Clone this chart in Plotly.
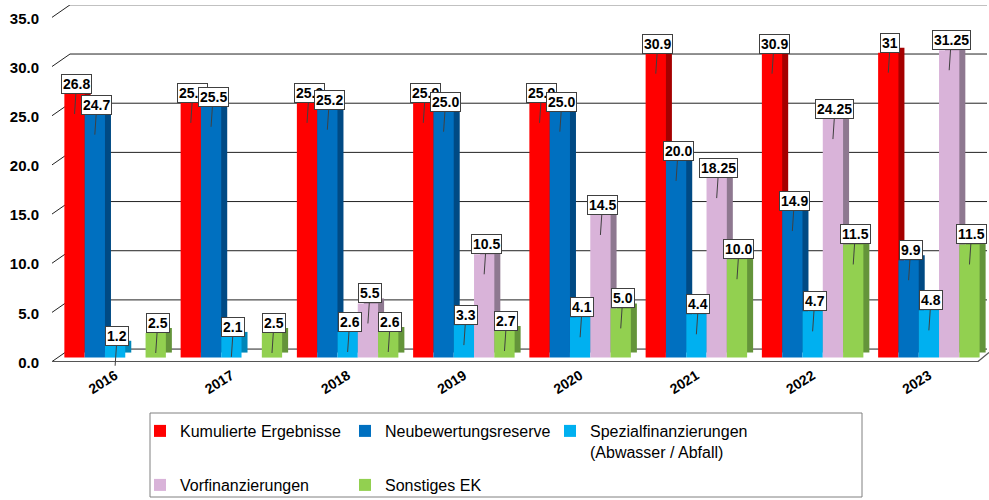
import plotly.graph_objects as go

# ---------------- data ----------------
years = ["2016", "2017", "2018", "2019", "2020", "2021", "2022", "2023"]

series_names = [
    "Kumulierte Ergebnisse",
    "Neubewertungsreserve",
    "Spezialfinanzierungen<br>(Abwasser / Abfall)",
    "Vorfinanzierungen",
    "Sonstiges EK",
]

kumuliert = [26.8, 25.9, 25.9, 25.9, 25.9, 30.9, 30.9, 31.0]
kumuliert_labels = ["26.8", "25.9", "25.9", "25.9", "25.9", "30.9", "30.9", "31"]

neubewertung = [24.7, 25.5, 25.2, 25.0, 25.0, 20.0, 14.9, 9.9]
neubewertung_labels = ["24.7", "25.5", "25.2", "25.0", "25.0", "20.0", "14.9", "9.9"]

spezial = [1.2, 2.1, 2.6, 3.3, 4.1, 4.4, 4.7, 4.8]
spezial_labels = ["1.2", "2.1", "2.6", "3.3", "4.1", "4.4", "4.7", "4.8"]

vorfinanz = [None, None, 5.5, 10.5, 14.5, 18.25, 24.25, 31.25]
vorfinanz_labels = [None, None, "5.5", "10.5", "14.5", "18.25", "24.25", "31.25"]

sonstiges = [2.5, 2.5, 2.6, 2.7, 5.0, 10.0, 11.5, 11.5]
sonstiges_labels = ["2.5", "2.5", "2.6", "2.7", "5.0", "10.0", "11.5", "11.5"]

y_ticks = [0, 5, 10, 15, 20, 25, 30, 35]

# ---------------- style ----------------
face_colors = ["#FF0000", "#0070C0", "#00B0F0", "#D9B3D9", "#92D050"]
side_colors = ["#A50000", "#004A84", "#0086B8", "#8E7890", "#64943A"]
legend_of = ["legend", "legend", "legend", "legend2", "legend2"]

values = [kumuliert, neubewertung, spezial, vorfinanz, sonstiges]
labels = [kumuliert_labels, neubewertung_labels, spezial_labels, vorfinanz_labels, sonstiges_labels]

W, H = 989, 500
ML, MR, MT, MB = 50, 0, 5, 138
PLOT_W = W - ML - MR
PLOT_H = H - MT - MB
PX_X = 116.25
X_RANGE = [-0.5 - 7 / PX_X, 7.5 + 2 / PX_X]
Y_RANGE = [-0.45, 35.85]
PX_Y = PLOT_H / (Y_RANGE[1] - Y_RANGE[0])


def paper_x(px):
    return (px - ML) / PLOT_W


def paper_y(py):
    return (H - MB - py) / PLOT_H


BAR_W = 20.3 / PX_X
GROUP_OFF = -2.5 * BAR_W
DEPTH_X = 6 / PX_X
DEPTH_Y = 5 / PX_Y

xs = list(range(len(years)))

fig = go.Figure()

# depth (side/top faces) drawn first
for k in range(5):
    fig.add_trace(go.Bar(
        x=xs, y=values[k], base=DEPTH_Y,
        offset=GROUP_OFF + k * BAR_W + DEPTH_X, width=BAR_W,
        marker=dict(color=side_colors[k], line=dict(width=0)),
        showlegend=False, hoverinfo="skip",
    ))

# front faces
for k in range(5):
    fig.add_trace(go.Bar(
        x=xs, y=values[k], name=series_names[k],
        offset=GROUP_OFF + k * BAR_W, width=BAR_W,
        marker=dict(color=face_colors[k], line=dict(width=0)),
        legend=legend_of[k],
    ))

# callout labels
annotations = []
for k in range(5):
    for i, (v, t) in enumerate(zip(values[k], labels[k])):
        if v is None:
            continue
        annotations.append(dict(
            x=i + GROUP_OFF + k * BAR_W + BAR_W / 2, y=v,
            xref="x", yref="y",
            text=t, showarrow=True, arrowhead=0, arrowwidth=1,
            arrowcolor="#404040", ax=2, ay=-30, yshift=-20,
            bgcolor="white", bordercolor="#404040", borderwidth=1, borderpad=1,
            font=dict(family="Liberation Sans", size=14, color="black", weight="bold"),
        ))

# pseudo-3D walls / grid
xl_front = X_RANGE[0] + 2 / PX_X
xl_back = X_RANGE[0] + 20 / PX_X
front_dy = -4 / PX_Y
back_dy = 8.5 / PX_Y
x_right = 7.5
shapes = []
for v in y_ticks:
    shapes.append(dict(type="line", xref="x", yref="y", layer="below",
                       x0=xl_front, y0=v + front_dy, x1=xl_back, y1=v + back_dy,
                       line=dict(color="#222222", width=1)))
    shapes.append(dict(type="line", xref="x", yref="y", layer="below",
                       x0=xl_back, y0=v + back_dy, x1=x_right, y1=v + back_dy,
                       line=dict(color="#222222" if v < 35 else "#555555", width=1)))
# floor front edge
shapes.append(dict(type="path", xref="x", yref="y", layer="above",
                   path=f"M {xl_front},{front_dy} L {7.5 - 9 / PX_X},{front_dy} L {X_RANGE[1]},{front_dy + 9 / PX_Y}",
                   line=dict(color="#555555", width=1.2)))
# legend frame
shapes.append(dict(type="rect", xref="paper", yref="paper",
                   x0=paper_x(150), x1=paper_x(862), y0=paper_y(413), y1=paper_y(497),
                   line=dict(color="#808080", width=1), fillcolor="rgba(0,0,0,0)"))

legend_common = dict(
    orientation="h", xanchor="left", yanchor="top",
    borderwidth=0, bgcolor="rgba(0,0,0,0)",
    font=dict(family="Liberation Sans", size=16, color="black"),
    entrywidth=160, valign="top", traceorder="normal",
    tracegroupgap=0, itemwidth=30,
)

fig.update_layout(
    template="none",
    width=W, height=H,
    margin=dict(l=ML, r=MR, t=MT, b=MB, autoexpand=False),
    paper_bgcolor="white", plot_bgcolor="white",
    barmode="overlay",
    font=dict(family="Liberation Sans", color="black"),
    annotations=annotations,
    shapes=shapes,
    showlegend=True,
    legend=dict(x=paper_x(140), y=paper_y(414), **legend_common),
    legend2=dict(x=paper_x(140), y=paper_y(468), **legend_common),
    xaxis=dict(
        range=X_RANGE, tickmode="array", tickvals=xs, ticktext=years,
        tickangle=-32, showgrid=False, zeroline=False, showline=False,
        ticks="", ticklabelstandoff=2, automargin=False,
        tickfont=dict(family="Liberation Sans", size=14, color="black", weight="bold"),
    ),
    yaxis=dict(
        range=Y_RANGE, tickmode="array", tickvals=y_ticks,
        ticktext=[f"{v:.1f}" for v in y_ticks],
        showgrid=False, zeroline=False, showline=False, ticks="",
        ticklabelstandoff=10, ticklabelshift=5, automargin=False,
        tickfont=dict(family="Liberation Sans", size=15, color="black", weight="bold"),
    ),
)

fig.write_html("out.html", config={"displayModeBar": False},
               post_script="document.body.style.margin='0';")
